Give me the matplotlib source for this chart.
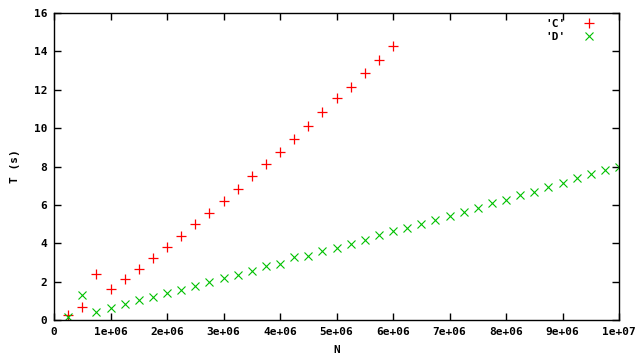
import matplotlib
matplotlib.use("Agg")
import matplotlib.pyplot as plt
from matplotlib.ticker import FuncFormatter, MultipleLocator

# ---------- data ----------
n_c = [0.25e6, 0.5e6, 0.75e6, 1.0e6, 1.25e6, 1.5e6, 1.75e6, 2.0e6, 2.25e6, 2.5e6,
       2.75e6, 3.0e6, 3.25e6, 3.5e6, 3.75e6, 4.0e6, 4.25e6, 4.5e6, 4.75e6, 5.0e6,
       5.25e6, 5.5e6, 5.75e6, 6.0e6]
t_c = [0.26, 0.69, 2.40, 1.60, 2.12, 2.64, 3.23, 3.80, 4.37, 4.98,
       5.56, 6.20, 6.82, 7.48, 8.12, 8.75, 9.41, 10.09, 10.82, 11.55,
       12.14, 12.86, 13.54, 14.27]

n_d = [0.25e6, 0.5e6, 0.75e6, 1.0e6, 1.25e6, 1.5e6, 1.75e6, 2.0e6, 2.25e6, 2.5e6,
       2.75e6, 3.0e6, 3.25e6, 3.5e6, 3.75e6, 4.0e6, 4.25e6, 4.5e6, 4.75e6, 5.0e6,
       5.25e6, 5.5e6, 5.75e6, 6.0e6, 6.25e6, 6.5e6, 6.75e6, 7.0e6, 7.25e6, 7.5e6,
       7.75e6, 8.0e6, 8.25e6, 8.5e6, 8.75e6, 9.0e6, 9.25e6, 9.5e6, 9.75e6, 10.0e6]
t_d = [0.15, 1.29, 0.43, 0.61, 0.82, 1.03, 1.20, 1.39, 1.56, 1.77,
       1.98, 2.19, 2.33, 2.55, 2.81, 2.90, 3.26, 3.32, 3.58, 3.73,
       3.95, 4.17, 4.42, 4.63, 4.77, 4.98, 5.19, 5.40, 5.61, 5.82,
       6.08, 6.28, 6.49, 6.65, 6.91, 7.12, 7.38, 7.59, 7.80, 7.95]

x_ticks = [0, 1e6, 2e6, 3e6, 4e6, 5e6, 6e6, 7e6, 8e6, 9e6, 1e7]

# ---------- style ----------
plt.rcParams["font.family"] = ["DejaVu Sans Mono"]
plt.rcParams["font.weight"] = "bold"
plt.rcParams["font.size"] = 8

fig = plt.figure(figsize=(6.4, 3.6), dpi=100)
ax = fig.add_axes([54 / 640, 40 / 360, 565 / 640, 307 / 360])

ax.plot(n_c, t_c, linestyle="none", marker="+", markersize=7, markeredgewidth=0.9,
        color="#ff0000", label="'C'")
ax.plot(n_d, t_d, linestyle="none", marker="x", markersize=6, markeredgewidth=0.8,
        color="#00c000", label="'D'")

ax.set_xlim(0, 1e7)
ax.set_ylim(0, 16)
ax.set_xticks(x_ticks)
ax.xaxis.set_major_formatter(FuncFormatter(lambda v, p: "0" if v == 0 else f"{v:.0e}"))
ax.yaxis.set_major_locator(MultipleLocator(2))

ax.tick_params(direction="in", length=5, width=1, top=True, right=True, pad=5, colors="black")
for s in ax.spines.values():
    s.set_linewidth(1)

ax.set_xlabel("N", labelpad=6, fontweight="bold")
ax.set_ylabel("T (s)", labelpad=10, fontweight="bold")

ax.legend(loc="upper right", bbox_to_anchor=(1 - 8 / 565, 1.005), markerfirst=False,
          frameon=False, handlelength=2.5, handletextpad=0.85, borderaxespad=0.3,
          labelspacing=0.25)

fig.savefig("out.png", dpi=100)
